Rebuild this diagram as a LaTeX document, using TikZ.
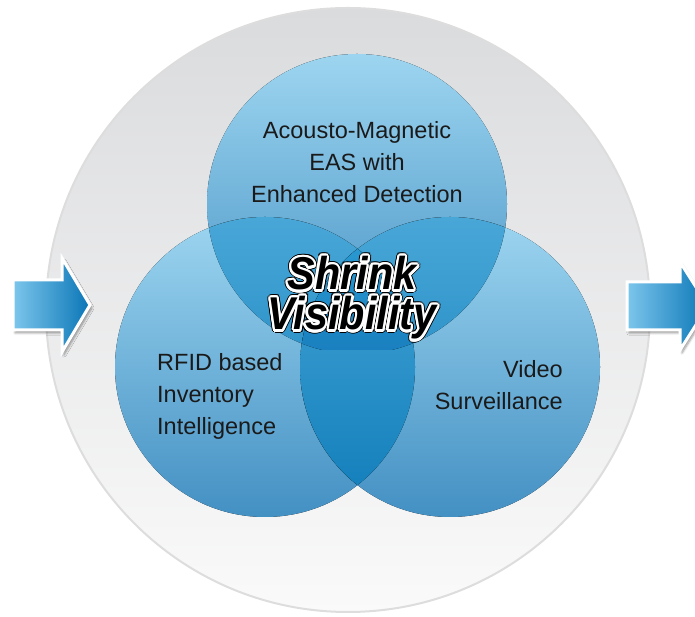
\documentclass[tikz,border=0pt]{standalone}
\usepackage{fontspec}
\setmainfont{Liberation Sans}
\usetikzlibrary{shadows.blur}

\definecolor{ringtop}{HTML}{DADBDD}
\definecolor{ringline}{HTML}{DDDDDD}
\definecolor{blobtop}{HTML}{9DD5F0}
\definecolor{blobbottom}{HTML}{4390C3}
\definecolor{pairtop}{HTML}{4AA8D8}
\definecolor{pairbottom}{HTML}{1480BC}
\definecolor{coretop}{HTML}{2A9AD2}
\definecolor{corebottom}{HTML}{1A80BF}
\definecolor{arrowlight}{HTML}{7CC6EC}
\definecolor{arrowdark}{HTML}{0A76B6}
\definecolor{inktext}{HTML}{1A1A1A}

\begin{document}
\begin{tikzpicture}[x=1pt, y=1pt,
    blob/.style={top color=blobtop, bottom color=blobbottom},
    pair/.style={top color=pairtop, bottom color=pairbottom},
    core/.style={top color=coretop, bottom color=corebottom},
    flow/.style={left color=arrowlight, right color=arrowdark, draw=white,
        line width=3pt, line join=miter,
        blur shadow={shadow xshift=2pt, shadow yshift=-3pt, shadow blur steps=6}},
    label/.style={font=\fontsize{23.5}{32}\selectfont, text=inktext, inner sep=0pt},
    headline/.style={font=\fontsize{46}{40}\selectfont\bfseries\itshape,
        align=center, xscale=0.9, transform shape}]
\useasboundingbox (0,0) rectangle (695,617);

\coordinate (ctop) at (357,413);
\coordinate (cleft) at (265,250);
\coordinate (cright) at (450,250);

% background disc
\draw[line width=2pt, draw=ringline, top color=ringtop, bottom color=white!98!black]
    (348,307) circle (302);

% three discs
\fill[blob] (ctop) circle (150);
\fill[blob] (cleft) circle (150);
\fill[blob] (cright) circle (150);

% overlaps, two at a time
\foreach \p/\q in {ctop/cleft, ctop/cright, cleft/cright} {
    \begin{scope}
        \clip (\p) circle (150);
        \clip (\q) circle (150);
        \fill[pair] (100,127) rectangle (620,407);
    \end{scope}
}
% overlap of all three
\begin{scope}
    \clip (ctop) circle (150);
    \clip (cleft) circle (150);
    \clip (cright) circle (150);
    \fill[core] (100,267) rectangle (620,377);
\end{scope}

% arrows in and out
\draw[flow] (13,287) -- (13,337) -- (62,337) -- (62,359) -- (90,312)
    -- (62,265) -- (62,287) -- cycle;
\draw[flow] (627,287) -- (627,335) -- (680,335) -- (680,355) -- (708,311)
    -- (680,267) -- (680,287) -- cycle;

% labels
\node[label, align=center] (eas) at (357,455)
    {Acousto-Magnetic\\EAS with\\Enhanced Detection};
\node[label, align=left, anchor=west] (rfid) at (157,221)
    {RFID based\\Inventory\\Intelligence};
\node[label, align=right, anchor=east] (video) at (563,232)
    {Video\\Surveillance};

% centre title with white rim and dark edge
\foreach \a in {0,20,...,340}
    \node[headline, text=black, shift={(\a:3.4pt)}] at (352,319)
        {Shrink\\Visibility};
\foreach \a in {0,20,...,340}
    \node[headline, text=white, shift={(\a:2.5pt)}] at (352,319)
        {Shrink\\Visibility};
\node[headline, text=black] (title) at (352,319) {Shrink\\Visibility};
\end{tikzpicture}
\end{document}
